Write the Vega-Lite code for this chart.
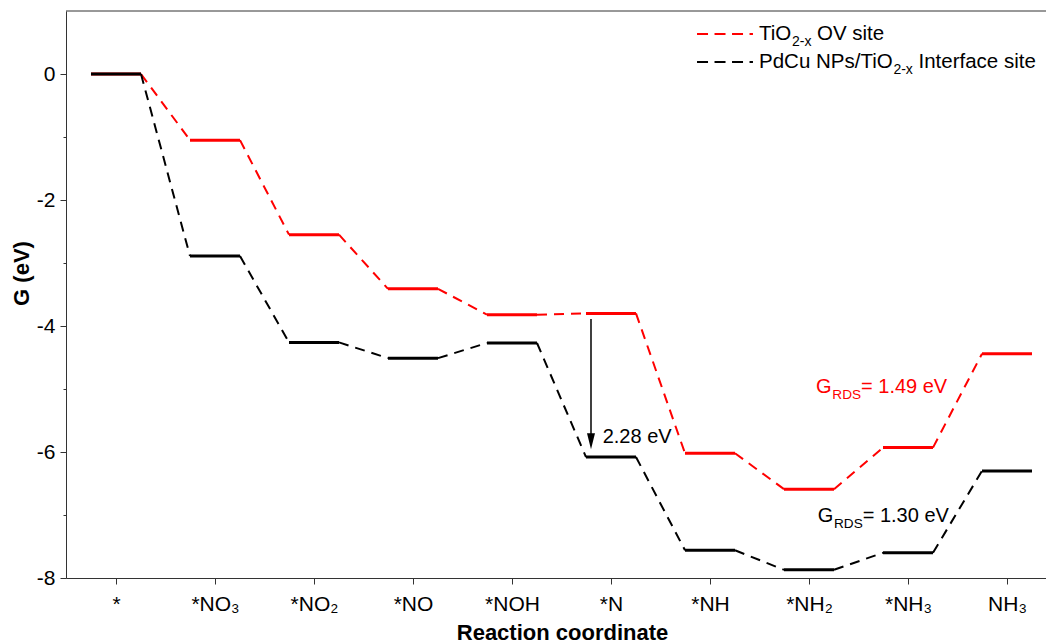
{
  "$schema": "https://vega.github.io/schema/vega-lite/v6.json",
  "width": 980,
  "height": 567,
  "autosize": {"type": "none"},
  "padding": {"left": 66, "top": 11, "right": 0, "bottom": 66},
  "config": {
    "view": {"stroke": null},
    "font": "Liberation Sans",
    "axis": {"grid": false, "domainColor": "#333333", "tickColor": "#333333", "labelColor": "#000000", "titleColor": "#000000", "labelFont": "Liberation Sans", "titleFont": "Liberation Sans"}
  },
  "datasets": {
    "levels": [
      {"series": "TiO2-x OV site", "i": 0, "G": 0},
      {"series": "TiO2-x OV site", "i": 1, "G": -1.05},
      {"series": "TiO2-x OV site", "i": 2, "G": -2.55},
      {"series": "TiO2-x OV site", "i": 3, "G": -3.41},
      {"series": "TiO2-x OV site", "i": 4, "G": -3.82},
      {"series": "TiO2-x OV site", "i": 5, "G": -3.8},
      {"series": "TiO2-x OV site", "i": 6, "G": -6.02},
      {"series": "TiO2-x OV site", "i": 7, "G": -6.59},
      {"series": "TiO2-x OV site", "i": 8, "G": -5.93},
      {"series": "TiO2-x OV site", "i": 9, "G": -4.44},
      {"series": "PdCu NPs/TiO2-x Interface site", "i": 0, "G": 0},
      {"series": "PdCu NPs/TiO2-x Interface site", "i": 1, "G": -2.89},
      {"series": "PdCu NPs/TiO2-x Interface site", "i": 2, "G": -4.26},
      {"series": "PdCu NPs/TiO2-x Interface site", "i": 3, "G": -4.51},
      {"series": "PdCu NPs/TiO2-x Interface site", "i": 4, "G": -4.27},
      {"series": "PdCu NPs/TiO2-x Interface site", "i": 5, "G": -6.08},
      {"series": "PdCu NPs/TiO2-x Interface site", "i": 6, "G": -7.56},
      {"series": "PdCu NPs/TiO2-x Interface site", "i": 7, "G": -7.87},
      {"series": "PdCu NPs/TiO2-x Interface site", "i": 8, "G": -7.6},
      {"series": "PdCu NPs/TiO2-x Interface site", "i": 9, "G": -6.3}
    ],
    "rds": [
      {"series": "TiO2-x OV site", "i": 7.071, "G": -5.068, "g": "G", "sub": "RDS", "rest": "= 1.49 eV"},
      {"series": "PdCu NPs/TiO2-x Interface site", "i": 7.088, "G": -7.106, "g": "G", "sub": "RDS", "rest": "= 1.30 eV"}
    ],
    "leg": [
      {"series": "TiO2-x OV site", "row": 1, "Gs": 0.635, "G": 0.54, "a": "TiO", "b": "2-x", "c": "OV site"},
      {"series": "PdCu NPs/TiO2-x Interface site", "row": 2, "Gs": 0.19, "G": 0.09, "a": "PdCu NPs/TiO", "b": "2-x", "c": "Interface site"}
    ]
  },
  "layer": [
    {
      "data": {"values": [{"G": 1}]},
      "mark": {"type": "rule", "color": "#333333", "strokeWidth": 1},
      "encoding": {
        "y": {"field": "G", "type": "quantitative", "scale": {"domain": [-8, 1], "nice": false, "zero": false},
          "axis": {
            "title": "G (eV)",
            "values": [-8, -7, -6, -5, -4, -3, -2, -1, 0],
            "labelExpr": "datum.value % 2 === 0 ? '' + datum.value : ''",
            "tickSize": {"condition": {"test": "datum.value % 2 !== 0", "value": 3}, "value": 6},
            "labelPadding": 5,
            "labelFontSize": 21,
            "titleFontSize": 22,
            "titleFontWeight": "bold",
            "titleAngle": 270,
            "titleX": -38,
            "titleY": 262,
            "titleBaseline": "alphabetic",
            "titleAlign": "center"
          }
        }
      }
    },
    {
      "data": {"name": "levels"},
      "transform": [
        {"window": [{"op": "lead", "field": "G", "as": "G2"}, {"op": "lead", "field": "i", "as": "i2"}], "groupby": ["series"], "sort": [{"field": "i", "order": "ascending"}], "frame": [null, null]},
        {"filter": "datum.i2 != null"}
      ],
      "mark": {"type": "rule", "strokeDash": [10, 7], "strokeWidth": 2, "xOffset": 25, "x2Offset": -25},
      "encoding": {
        "x": {"field": "i", "type": "quantitative", "scale": {"domain": [-0.505, 9.394], "nice": false, "zero": false},
          "axis": {
            "title": "Reaction coordinate",
            "values": [0, 1, 2, 3, 4, 5, 6, 7, 8, 9],
            "labelExpr": "['*', '*NO₃', '*NO₂', '*NO', '*NOH', '*N', '*NH', '*NH₂', '*NH₃', 'NH₃'][datum.value]",
            "tickSize": 6,
            "labelPadding": 9,
            "labelFontSize": 21,
            "labelFlush": false,
            "labelOverlap": false,
            "titleFontSize": 22,
            "titleFontWeight": "bold",
            "titleX": 496,
            "titleY": 61,
            "titleBaseline": "alphabetic"
          }
        },
        "x2": {"field": "i2"},
        "y": {"field": "G", "type": "quantitative"},
        "y2": {"field": "G2"},
        "color": {"field": "series", "type": "nominal",
          "scale": {"domain": ["TiO2-x OV site", "PdCu NPs/TiO2-x Interface site"], "range": ["#ff0000", "#000000"]},
          "legend": null
        }
      }
    },
    {
      "data": {"name": "levels"},
      "mark": {"type": "rule", "strokeWidth": 3, "xOffset": -25, "x2Offset": 25},
      "encoding": {
        "x": {"field": "i", "type": "quantitative"},
        "x2": {"field": "i"},
        "y": {"field": "G", "type": "quantitative"},
        "color": {"field": "series", "type": "nominal", "legend": null}
      }
    },
    {
      "data": {"name": "leg"},
      "mark": {"type": "rule", "strokeDash": [11, 6.5], "strokeWidth": 2},
      "encoding": {
        "x": {"datum": 5.869, "type": "quantitative"},
        "x2": {"datum": 6.434},
        "y": {"field": "Gs", "type": "quantitative"},
        "color": {"field": "series", "type": "nominal", "legend": null}
      }
    },
    {
      "data": {"name": "leg"},
      "mark": {"type": "text", "align": "left", "baseline": "alphabetic", "fontSize": 20.5, "color": "#000000"},
      "encoding": {
        "x": {"datum": 6.495, "type": "quantitative"},
        "y": {"field": "G", "type": "quantitative"},
        "text": {"field": "a"}
      }
    },
    {
      "data": {"name": "leg"},
      "transform": [{"filter": "datum.row === 1"}],
      "mark": {"type": "text", "align": "left", "baseline": "alphabetic", "fontSize": 14, "dx": 33, "dy": 6, "color": "#000000"},
      "encoding": {
        "x": {"datum": 6.495, "type": "quantitative"},
        "y": {"field": "G", "type": "quantitative"},
        "text": {"field": "b"}
      }
    },
    {
      "data": {"name": "leg"},
      "transform": [{"filter": "datum.row === 1"}],
      "mark": {"type": "text", "align": "left", "baseline": "alphabetic", "fontSize": 20.5, "dx": 58, "color": "#000000"},
      "encoding": {
        "x": {"datum": 6.495, "type": "quantitative"},
        "y": {"field": "G", "type": "quantitative"},
        "text": {"field": "c"}
      }
    },
    {
      "data": {"name": "leg"},
      "transform": [{"filter": "datum.row === 2"}],
      "mark": {"type": "text", "align": "left", "baseline": "alphabetic", "fontSize": 14, "dx": 134.4, "dy": 6, "color": "#000000"},
      "encoding": {
        "x": {"datum": 6.495, "type": "quantitative"},
        "y": {"field": "G", "type": "quantitative"},
        "text": {"field": "b"}
      }
    },
    {
      "data": {"name": "leg"},
      "transform": [{"filter": "datum.row === 2"}],
      "mark": {"type": "text", "align": "left", "baseline": "alphabetic", "fontSize": 20.5, "dx": 159.5, "color": "#000000"},
      "encoding": {
        "x": {"datum": 6.495, "type": "quantitative"},
        "y": {"field": "G", "type": "quantitative"},
        "text": {"field": "c"}
      }
    },
    {
      "data": {"values": [{"i": 4.798, "G": -3.889, "G2": -5.8}]},
      "mark": {"type": "rule", "color": "#000000", "strokeWidth": 1.5},
      "encoding": {
        "x": {"field": "i", "type": "quantitative"},
        "y": {"field": "G", "type": "quantitative"},
        "y2": {"field": "G2"}
      }
    },
    {
      "data": {"values": [{"i": 4.798, "G": -5.957}]},
      "mark": {"type": "point", "shape": "M-0.5,-2L0.5,-2L0,0Z", "size": 256, "filled": true, "color": "#000000", "opacity": 1, "strokeWidth": 0},
      "encoding": {
        "x": {"field": "i", "type": "quantitative"},
        "y": {"field": "G", "type": "quantitative"}
      }
    },
    {
      "data": {"values": [{"i": 4.916, "G": -5.852, "t": "2.28 eV"}]},
      "mark": {"type": "text", "align": "left", "baseline": "alphabetic", "fontSize": 20, "color": "#000000"},
      "encoding": {
        "x": {"field": "i", "type": "quantitative"},
        "y": {"field": "G", "type": "quantitative"},
        "text": {"field": "t"}
      }
    },
    {
      "data": {"name": "rds"},
      "mark": {"type": "text", "align": "left", "baseline": "alphabetic", "fontSize": 20},
      "encoding": {
        "x": {"field": "i", "type": "quantitative"},
        "y": {"field": "G", "type": "quantitative"},
        "text": {"field": "g"},
        "fill": {"field": "series", "type": "nominal", "scale": {"domain": ["TiO2-x OV site", "PdCu NPs/TiO2-x Interface site"], "range": ["#ff0000", "#000000"]}, "legend": null}
      }
    },
    {
      "data": {"name": "rds"},
      "mark": {"type": "text", "align": "left", "baseline": "alphabetic", "fontSize": 13.6, "dx": 16.3, "dy": 6},
      "encoding": {
        "x": {"field": "i", "type": "quantitative"},
        "y": {"field": "G", "type": "quantitative"},
        "text": {"field": "sub"},
        "fill": {"field": "series", "type": "nominal", "legend": null}
      }
    },
    {
      "data": {"name": "rds"},
      "mark": {"type": "text", "align": "left", "baseline": "alphabetic", "fontSize": 20, "dx": 45},
      "encoding": {
        "x": {"field": "i", "type": "quantitative"},
        "y": {"field": "G", "type": "quantitative"},
        "text": {"field": "rest"},
        "fill": {"field": "series", "type": "nominal", "legend": null}
      }
    }
  ]
}
